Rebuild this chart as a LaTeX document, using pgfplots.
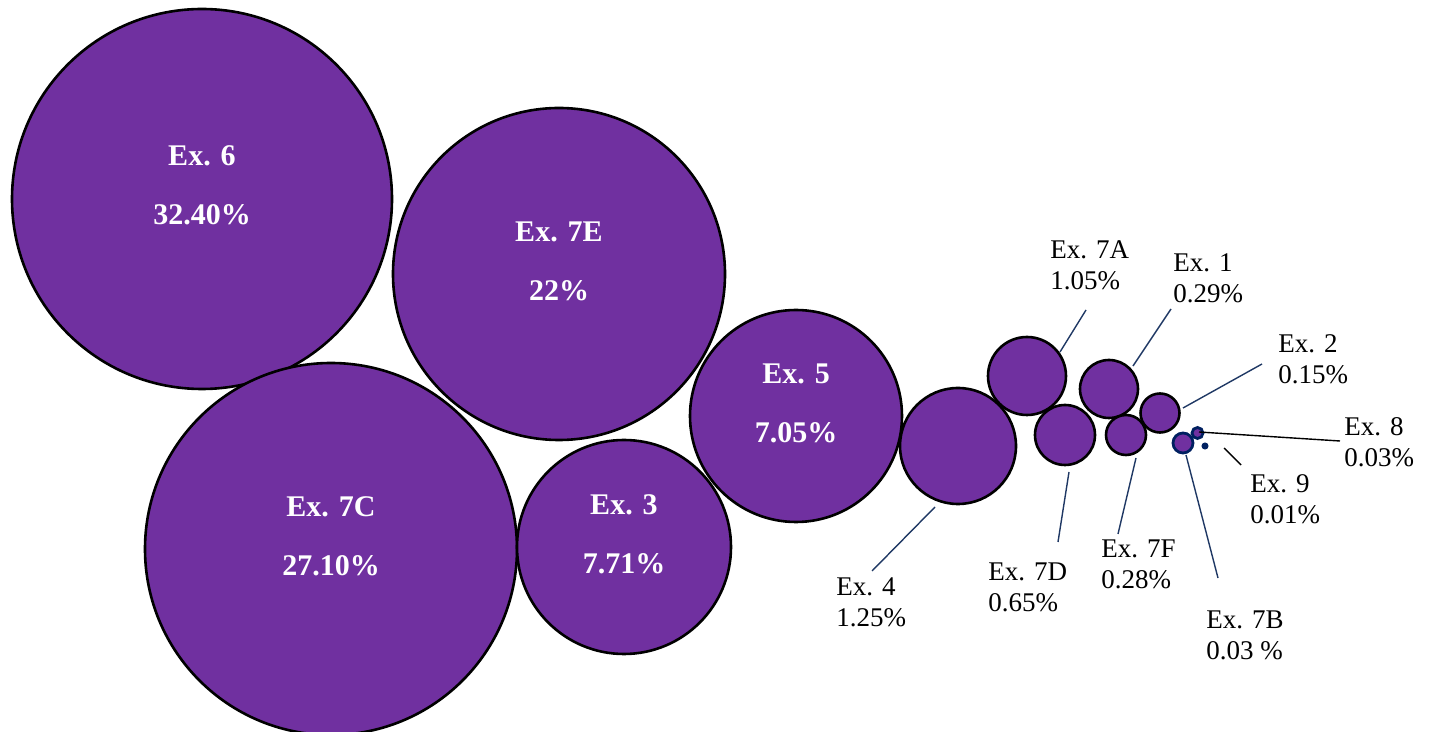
\documentclass[border=0pt]{standalone}
\usepackage{pgfplots}
\pgfplotsset{compat=1.18}
\usepackage{pgfplotstable}
\usepackage{fontspec}
\setmainfont{Liberation Serif}

\definecolor{bubble}{HTML}{7030A0}
\definecolor{navy}{HTML}{1F3864}
\definecolor{navyb}{HTML}{002060}

% bubbles in pixel coordinates of the reference (x, y from top, radius)
\pgfplotstableread{
x      y    r
202    199  190
559    274  166
331    549  186
624    547  107
796    416  106
958    446  58
1027   376  39
1065   435  30
1109   389  29
1126   435  20
1160   413  19.5
}\bubbles
\pgfplotstableread{
x      y    r
1183   443  10
1197.5 433  5.5
}\smallbubbles
\pgfplotstableread{
x      y    r
1205   446  3
}\tinybubbles

\newcommand{\inlbl}[4]{%
  \node[anchor=base, text=white, font=\fontsize{15}{17}\selectfont\bfseries] at (axis cs:#1,#2-32) {#3};
  \node[anchor=base, text=white, font=\fontsize{15}{17}\selectfont\bfseries] at (axis cs:#1,#2+27) {#4};}
\newcommand{\outlbl}[4]{%
  \node[anchor=base west, inner sep=0pt, font=\fontsize{13.5}{16}\selectfont] at (axis cs:#1,#2) {#3};
  \node[anchor=base west, inner sep=0pt, font=\fontsize{13.5}{16}\selectfont] at (axis cs:#1,#2+31) {#4};}

\pgfplotsset{
  bubblesize/.style={
    scatter/@pre marker code/.append style={/tikz/mark size=0.5*\rad}},
}

\begin{document}
\begin{tikzpicture}
\begin{axis}[
    scale only axis,
    width=718.5pt, height=366pt,
    xmin=0, xmax=1437, ymin=0, ymax=732,
    y dir=reverse,
    hide axis,
    clip marker paths=true,
    point meta=explicit,
    visualization depends on={\thisrow{r} \as \rad},
]
\coordinate (ll) at (rel axis cs:0,0);
\coordinate (ur) at (rel axis cs:1,1);
% big bubbles
\addplot[scatter, only marks, mark=*, line width=1.3pt,
    scatter/use mapped color={draw=black, fill=bubble}, bubblesize]
    table[x=x, y=y, meta=r] {\bubbles};
% small bubbles with navy border
\addplot[scatter, only marks, mark=*, line width=1.4pt,
    scatter/use mapped color={draw=navyb, fill=bubble}, bubblesize]
    table[x=x, y=y, meta=r] {\smallbubbles};
\addplot[scatter, only marks, mark=*, line width=0.5pt,
    scatter/use mapped color={draw=navyb, fill=navyb}, bubblesize]
    table[x=x, y=y, meta=r] {\tinybubbles};

% leader lines
\draw[navy, line width=0.7pt] (axis cs:1060,352) -- (axis cs:1086,310);
\draw[navy, line width=0.7pt] (axis cs:1133,366) -- (axis cs:1171,309);
\draw[navy, line width=0.7pt] (axis cs:1183,408) -- (axis cs:1262,364);
\draw[black, line width=0.7pt] (axis cs:1199,432) -- (axis cs:1340,441);
\draw[black, line width=0.7pt] (axis cs:1224,448) -- (axis cs:1241,465);
\draw[navy, line width=0.7pt] (axis cs:1186,455) -- (axis cs:1218,578);
\draw[navy, line width=0.7pt] (axis cs:1136,458) -- (axis cs:1118,534);
\draw[navy, line width=0.7pt] (axis cs:1069,472) -- (axis cs:1058,542);
\draw[navy, line width=0.7pt] (axis cs:935,507) -- (axis cs:872,571);

% labels inside the big bubbles
\inlbl{202}{198}{Ex. 6}{32.40\%}
\inlbl{559}{274}{Ex. 7E}{22\%}
\inlbl{331}{549}{Ex. 7C}{27.10\%}
\inlbl{624}{547}{Ex. 3}{7.71\%}
\inlbl{796}{416}{Ex. 5}{7.05\%}

% labels outside
\outlbl{1050}{259}{Ex. 7A}{1.05\%}
\outlbl{1173}{272}{Ex. 1}{0.29\%}
\outlbl{1278}{353}{Ex. 2}{0.15\%}
\outlbl{1344}{436}{Ex. 8}{0.03\%}
\outlbl{1250}{493}{Ex. 9}{0.01\%}
\outlbl{1206}{629}{Ex. 7B}{0.03 \%}
\outlbl{1101}{558}{Ex. 7F}{0.28\%}
\outlbl{988}{581}{Ex. 7D}{0.65\%}
\outlbl{836}{596}{Ex. 4}{1.25\%}
\end{axis}
\pgfresetboundingbox
\path[use as bounding box] (ll) rectangle (ur);
\end{tikzpicture}
\end{document}
